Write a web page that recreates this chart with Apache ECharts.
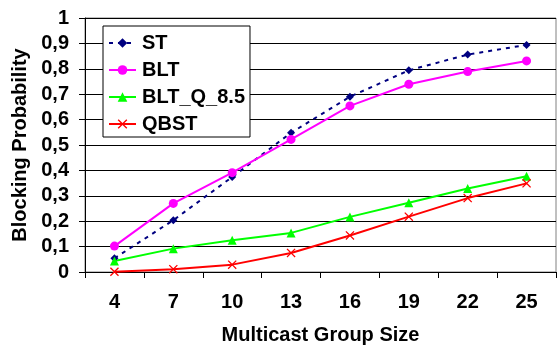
<!DOCTYPE html>
<html>
<head>
<meta charset="utf-8">
<style>
  html, body { margin: 0; padding: 0; background: #fff; }
  #chart { width: 559px; height: 347px; }
</style>
<script src="https://cdn.jsdelivr.net/npm/echarts@6/dist/echarts.min.js"></script>
</head>
<body>
<div id="chart"></div>
<script>
// Multicast group sizes on the x axis
const groupSizes = ['4', '7', '10', '13', '16', '19', '22', '25'];

// Blocking probability per algorithm
const stValues    = [0.054, 0.204, 0.374, 0.548, 0.690, 0.794, 0.856, 0.894];
const bltValues   = [0.102, 0.270, 0.391, 0.522, 0.654, 0.739, 0.789, 0.831];
const bltQValues  = [0.043, 0.092, 0.125, 0.154, 0.217, 0.273, 0.329, 0.377];
const qbstValues  = [0.001, 0.011, 0.029, 0.075, 0.144, 0.218, 0.291, 0.349];

const FONT = '"Liberation Sans", Arial, sans-serif';
const crossSymbol = 'path://M0,1L1,0L5,4L9,0L10,1L6,5L10,9L9,10L5,6L1,10L0,9L4,5Z';

const chart = echarts.init(document.getElementById('chart'), null, { renderer: 'canvas' });

function lineSeries(name, data, color, symbol, size, dashed) {
  return {
    name: name,
    type: 'line',
    data: data,
    symbol: symbol,
    symbolSize: size,
    showSymbol: true,
    animation: false,
    lineStyle: { color: color, width: 2, type: dashed ? [4, 5] : 'solid' },
    itemStyle: { color: color, borderColor: color, borderWidth: 0 },
    emphasis: { disabled: true }
  };
}

chart.setOption({
  backgroundColor: '#fff',
  animation: false,
  grid: {
    left: 85, right: 3, top: 18, bottom: 75,
    outerBoundsMode: 'none',
    containLabel: false,
    show: true, borderColor: '#808080', borderWidth: 1, backgroundColor: '#fff'
  },
  legend: {
    orient: 'vertical',
    left: 103, top: 26,
    padding: [7, 5, 3, 5],
    itemWidth: 27, itemHeight: 12, itemGap: 7,
    backgroundColor: '#fff',
    borderColor: '#000', borderWidth: 1, borderRadius: 0,
    textStyle: { fontFamily: FONT, fontSize: 20, fontWeight: 'bold', color: '#000', lineHeight: 20, padding: [0, 0, 0, 1] },
    data: ['ST', 'BLT', 'BLT_Q_8.5', 'QBST']
  },
  xAxis: {
    type: 'category',
    data: groupSizes,
    boundaryGap: true,
    name: 'Multicast Group Size',
    nameLocation: 'middle',
    nameGap: 53,
    nameTextStyle: { fontFamily: FONT, fontSize: 20, fontWeight: 'bold', color: '#000' },
    axisLine: { show: true, lineStyle: { color: '#000', width: 1 } },
    axisTick: { show: true, inside: false, length: 6, lineStyle: { color: '#000' } },
    axisLabel: { fontFamily: FONT, fontSize: 20, fontWeight: 'bold', color: '#000', margin: 20 },
    splitLine: { show: false }
  },
  yAxis: {
    type: 'value',
    min: 0, max: 1, interval: 0.1,
    name: 'Blocking Probability',
    nameLocation: 'middle',
    nameGap: 54,
    nameTextStyle: { fontFamily: FONT, fontSize: 20, fontWeight: 'bold', color: '#000' },
    axisLine: { show: true, lineStyle: { color: '#000', width: 1 } },
    axisTick: { show: true, inside: false, length: 6, lineStyle: { color: '#000' } },
    axisLabel: {
      fontFamily: FONT, fontSize: 20, fontWeight: 'bold', color: '#000', margin: 16,
      formatter: function (v) {
        if (v === 0) return '0';
        if (Math.abs(v - 1) < 1e-9) return '1';
        return v.toFixed(1).replace('.', ',');
      }
    },
    splitLine: { show: true, lineStyle: { color: '#000', width: 1 } }
  },
  series: [
    lineSeries('ST', stValues, '#000080', 'diamond', 8, true),
    lineSeries('BLT', bltValues, '#ff00ff', 'circle', 9, false),
    lineSeries('BLT_Q_8.5', bltQValues, '#00ff00', 'triangle', 9, false),
    lineSeries('QBST', qbstValues, '#ff0000', crossSymbol, 9, false)
  ]
});
</script>
</body>
</html>
